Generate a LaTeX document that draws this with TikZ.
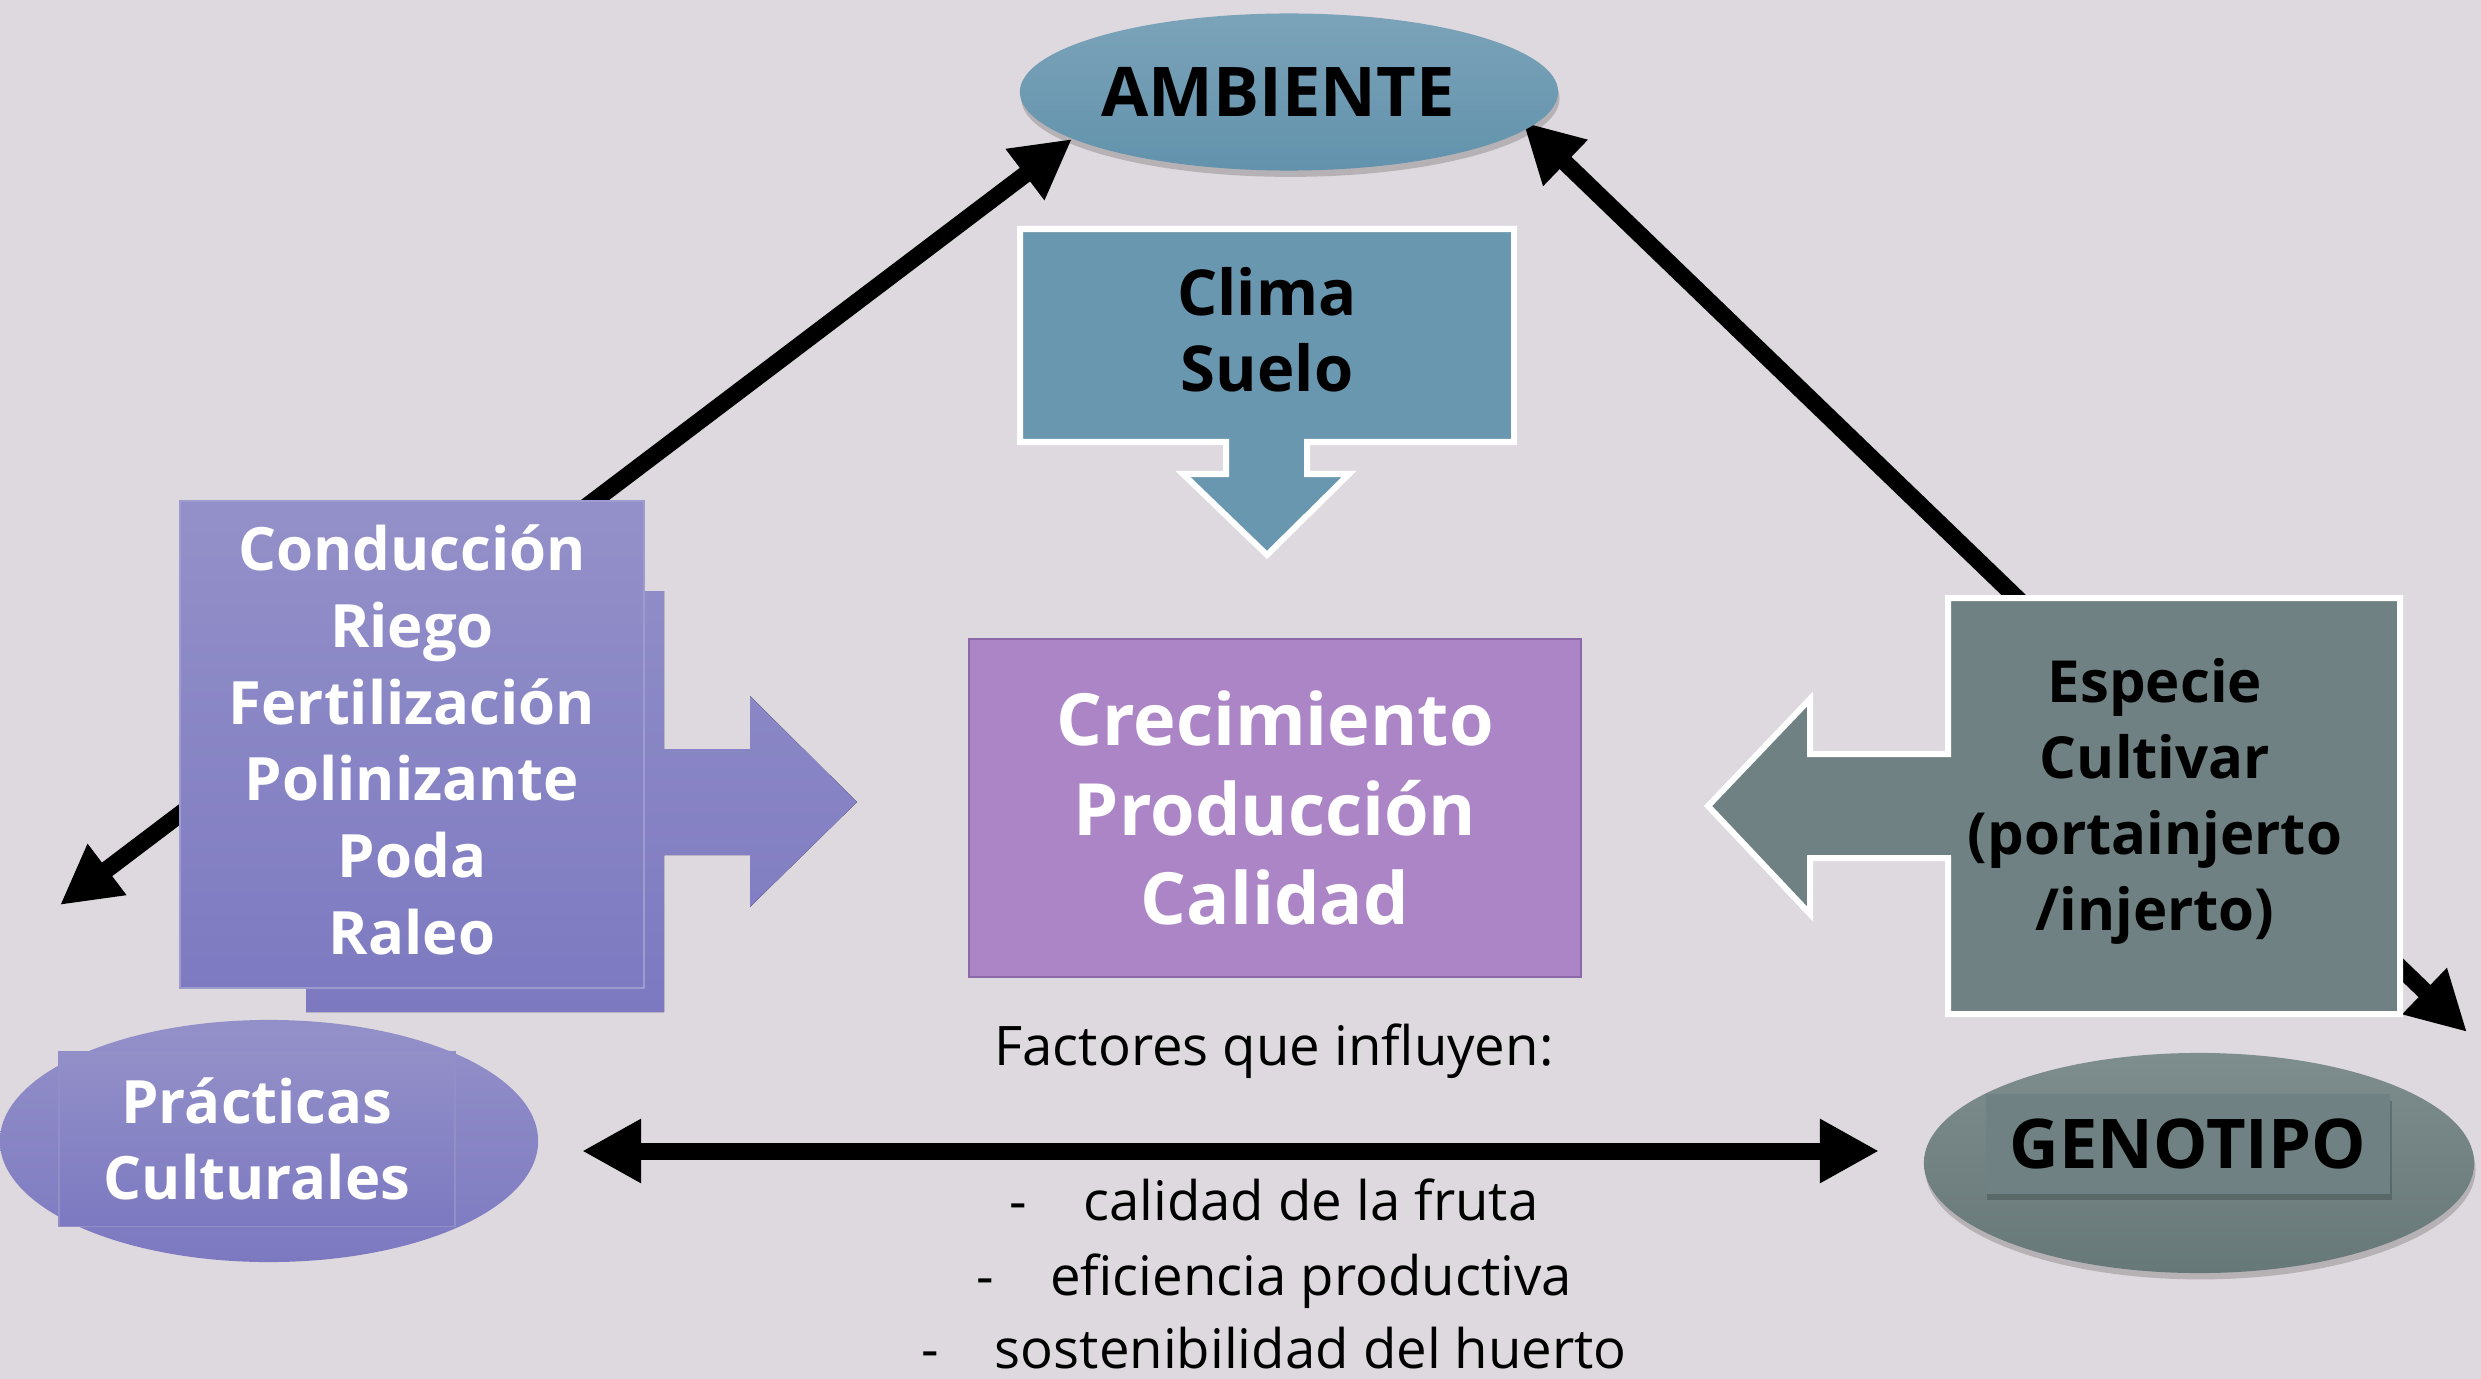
\documentclass[tikz,border=0pt]{standalone}
\usepackage{fontspec}
\setmainfont{Open Sans}
\usetikzlibrary{arrows.meta,shapes.geometric,shadows}
\definecolor{fondo}{RGB}{221,217,222}
\definecolor{ambtop}{RGB}{123,163,185}
\definecolor{ambbot}{RGB}{98,146,172}
\definecolor{climafill}{RGB}{106,151,176}
\definecolor{crecfill}{RGB}{172,133,198}
\definecolor{crecline}{RGB}{139,104,168}
\definecolor{practop}{RGB}{147,144,201}
\definecolor{pracbot}{RGB}{125,121,193}
\definecolor{genotop}{RGB}{126,141,141}
\definecolor{genobot}{RGB}{103,120,121}
\definecolor{genofill}{RGB}{111,129,130}

\begin{document}
\begin{tikzpicture}[x=0.01cm,y=-0.01cm,
    bigarrow/.style={line width=0.17cm,{Triangle[length=0.59cm,width=0.6cm]}-{Triangle[length=0.59cm,width=0.6cm]}},
    whitetext/.style={text=white,font=\fontsize{17}{21.8}\selectfont\bfseries,align=center},
    blacktext/.style={text=black,font=\fontsize{16.5}{21.6}\selectfont\bfseries,align=center},
    headtext/.style={text=black,font=\fontsize{19.5}{22}\selectfont\bfseries},
    listtext/.style={font=\fontsize{15.5}{21}\selectfont,anchor=base},
    softshadow/.style={drop shadow={shadow xshift=0.4pt,shadow yshift=-1.8pt,opacity=0.18,fill=black}}]
    \useasboundingbox (0,0) rectangle (2481,1379);
    \clip (0,0) rectangle (2481,1379);
    \fill[fondo] (0,0) rectangle (2481,1379);

    % Arrow ends
    \coordinate (ambL) at (1072,139);
    \coordinate (pracT) at (60,905);
    \coordinate (ambR) at (1523,122);
    \coordinate (genoT) at (2467,1032);
    \coordinate (pracR) at (582,1151);
    \coordinate (genoL) at (1879,1151);

    % Connectors
    \draw[bigarrow] (pracT) -- (ambL);
    \draw[bigarrow] (ambR) -- (genoT);
    \draw[bigarrow] (pracR) -- (genoL);

    % Ambiente
    \node[ellipse,inner sep=0pt,minimum width=5.38cm,minimum height=1.57cm,
        top color=ambtop,bottom color=ambbot,softshadow] (amb) at (1289,92) {};
    \node[headtext] (ambtxt) at (1278,92) {AMBIENTE};
    \draw[white,line width=0.06cm,fill=climafill] (1020,229) -- (1514,229) -- (1514,442)
        -- (1307,442) -- (1307,474) -- (1349,474) -- (1267,555) -- (1183,474)
        -- (1226,474) -- (1226,442) -- (1020,442) -- cycle;
    \node[blacktext,font=\fontsize{18}{21.5}\selectfont\bfseries] (clima) at (1267,330) {Clima\\Suelo};

    % Practicas culturales
    \fill[top color=practop!82!pracbot,bottom color=pracbot] (306,591) -- (664,591) -- (664,749)
        -- (750,749) -- (750,696) -- (857,802) -- (750,907) -- (750,855) -- (664,855)
        -- (664,1012) -- (306,1012) -- cycle;
    \draw[practop!90!white,line width=0.015cm,top color=practop,bottom color=practop!5!pracbot]
        (180,501) rectangle (644,988);
    \node[whitetext] (manejo) at (412,740) {Conducción\\Riego\\Fertilización\\Polinizante\\Poda\\Raleo};
    \node[ellipse,inner sep=0pt,minimum width=5.38cm,minimum height=2.42cm,
        top color=practop,bottom color=pracbot] (pracell) at (269,1141) {};
    \node[rectangle,inner sep=0pt,minimum width=3.96cm,minimum height=1.75cm,draw=practop!92!pracbot,
        line width=0.015cm,top color=practop!95!pracbot,bottom color=pracbot,whitetext] (prac) at (257,1139) {Prácticas\\Culturales};

    % Crecimiento
    \node[rectangle,draw=crecline,line width=0.02cm,fill=crecfill,minimum width=6.12cm,minimum height=3.38cm,
        whitetext,font=\fontsize{20.5}{25.5}\selectfont\bfseries] (crec) at (1275,808) {Crecimiento\\Producción\\Calidad};

    % Genotipo
    \draw[white,line width=0.06cm,fill=genofill] (1948,598) -- (2400,598) -- (2400,1014)
        -- (1948,1014) -- (1948,858) -- (1810,858) -- (1810,914) -- (1708,806)
        -- (1810,699) -- (1810,754) -- (1948,754) -- cycle;
    \node[blacktext] (esp) at (2155,801) {Especie\\Cultivar\\(portainjerto\\/injerto)};
    \node[ellipse,inner sep=0pt,minimum width=5.50cm,minimum height=2.20cm,
        top color=genotop,bottom color=genobot,softshadow] (genoell) at (2199,1163) {};
    \node[rectangle,inner sep=0pt,minimum width=4.04cm,minimum height=0.99cm,fill=genofill,
        softshadow,headtext] (geno) at (2188,1144) {GENOTIPO};

    % Factores
    \node[listtext] (fact) at (1274,1065) {Factores que influyen:};
    \node[listtext] (item1) at (1274,1220) {-\hspace{16pt}calidad de la fruta};
    \node[listtext] (item2) at (1274,1295) {-\hspace{16pt}eficiencia productiva};
    \node[listtext] (item3) at (1274,1368) {-\hspace{16pt}sostenibilidad del huerto};
\end{tikzpicture}
\end{document}
